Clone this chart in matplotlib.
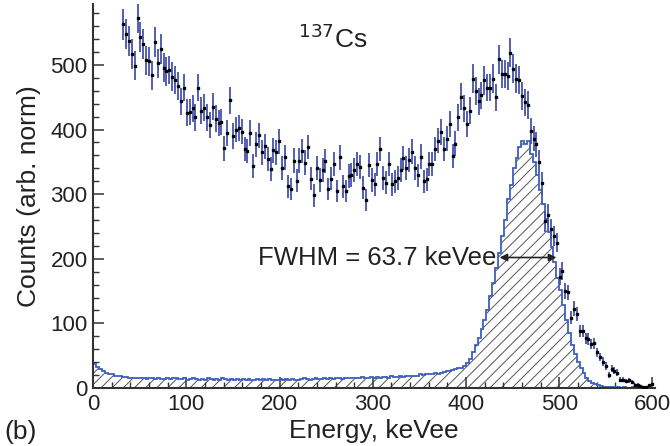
import matplotlib

matplotlib.use("Agg")
import matplotlib.pyplot as plt
import numpy as np

plt.rcParams["font.family"] = ["Liberation Sans", "DejaVu Sans"]
plt.rcParams["hatch.linewidth"] = 0.7

# measured spectrum (points with errors), bins of 3.1 keVee starting at 32.2
energy_start = 32.2
energy_step = 3.1
counts = [
    563, 548, 537, 517, 499, 573, 543, 532, 507, 506,
    484, 535, 503, 525, 496, 490, 492, 482, 477, 467,
    444, 465, 426, 427, 433, 419, 465, 429, 434, 419,
    407, 435, 417, 410, 412, 371, 395, 445, 390, 400,
    402, 397, 370, 367, 395, 343, 377, 391, 365, 374,
    354, 339, 368, 365, 382, 341, 357, 312, 308, 352,
    321, 352, 367, 349, 373, 324, 298, 341, 322, 337,
    351, 308, 324, 346, 305, 357, 312, 305, 328, 330,
    337, 346, 342, 310, 291, 345, 322, 315, 346, 370,
    325, 318, 346, 315, 320, 325, 337, 356, 341, 353,
    366, 341, 329, 358, 320, 323, 347, 346, 370, 383,
    396, 370, 386, 409, 359, 378, 419, 451, 433, 409,
    429, 479, 460, 444, 453, 476, 465, 465, 479, 450,
    509, 486, 486, 483, 519, 494, 479, 477, 452, 442,
    438, 398, 386, 377, 350, 317, 258, 268, 246, 235,
    225, 172, 181, 150, 148, 109, 123, 115, 88, 88,
    77, 76, 68, 69, 55, 48, 41, 34, 20, 30,
    27, 24, 13, 13, 11, 12, 10, 4, 5, 3,
    2, 2, 4, 6,
]

# simulated spectrum (hatched histogram), bins of 3.125 keVee from 0
hist_step = 3.125
hist_counts = [
    37, 33, 29, 26, 24, 22, 21, 19, 19, 18,
    17, 17, 16, 16, 15, 16, 15, 15, 14, 16,
    15, 14, 15, 14, 14, 15, 14, 16, 15, 14,
    14, 15, 13, 14, 15, 14, 13, 14, 13, 15,
    14, 13, 14, 13, 15, 14, 13, 14, 12, 14,
    13, 14, 13, 14, 13, 12, 14, 13, 14, 13,
    14, 13, 12, 13, 14, 13, 14, 13, 14, 13,
    13, 14, 15, 14, 13, 14, 15, 14, 14, 15,
    14, 15, 14, 16, 15, 14, 15, 16, 15, 15,
    16, 15, 17, 16, 15, 17, 16, 17, 16, 17,
    17, 16, 18, 17, 17, 18, 17, 19, 18, 18,
    19, 18, 22, 20, 21, 22, 21, 23, 22, 24,
    25, 26, 27, 28, 30, 31, 31, 34, 38, 45,
    55, 66, 78, 91, 105, 121, 142, 163, 186, 209,
    235, 260, 292, 314, 340, 356, 373, 382, 377, 383,
    362, 350, 330, 306, 285, 262, 242, 218, 195, 170,
    152, 128, 106, 85, 67, 53, 40, 31, 23, 16,
    11, 8, 6, 4, 3, 2, 2, 1, 1, 1,
    1, 0, 1, 0, 0, 1, 0, 0, 0, 0, 0, 0,
]

fwhm_lo, fwhm_hi, half_max = 436.0, 497.0, 202.0

energy = energy_start + energy_step * np.arange(len(counts))
counts = np.array(counts, dtype=float)
errors = np.sqrt(counts)
hist_counts = np.array(hist_counts, dtype=float)
hist_edges = hist_step * np.arange(len(hist_counts) + 1)

fig = plt.figure(figsize=(6.7, 4.46), dpi=100)
ax = fig.add_axes([0.139, 0.130, 0.839, 0.862])

ax.stairs(hist_counts, hist_edges, fill=True, facecolor="white", edgecolor="#555555",
          hatch="///", linewidth=0, zorder=1)
ax.stairs(hist_counts, hist_edges, color="#3d5fbf", linewidth=1.3, zorder=2)

ax.errorbar(energy, counts, yerr=errors, fmt="s", ms=1.5, mfc="black", mec="black",
            ecolor="#4654aa", elinewidth=1.3, capsize=0, zorder=3)

ax.annotate("", xy=(fwhm_lo, half_max), xytext=(fwhm_hi, half_max),
            arrowprops=dict(arrowstyle="<|-|>", color="#222222", lw=1.2,
                            mutation_scale=11, shrinkA=0, shrinkB=0), zorder=4)
ax.text(fwhm_lo - 3, half_max, "FWHM = 63.7 keVee", ha="right", va="center",
        fontsize=18.5, color="#222222")
ax.text(257, 540, r"$^{137}$Cs", ha="center", va="center", fontsize=19, color="#222222")

ax.set_xlim(0, 603)
ax.set_ylim(0, 595)
ax.set_xticks(np.arange(0, 601, 100))
ax.set_xticks(np.arange(0, 601, 20), minor=True)
ax.set_yticks(np.arange(0, 501, 100))
ax.set_yticks(np.arange(0, 595, 20), minor=True)
ax.tick_params(which="both", direction="in", colors="#333333", labelcolor="#222222")
ax.tick_params(which="major", length=8, width=1.1, labelsize=16, pad=4)
ax.tick_params(which="minor", length=4.5, width=1.0)
for side in ("top", "right"):
    ax.spines[side].set_visible(False)
for side in ("left", "bottom"):
    ax.spines[side].set_linewidth(1.5)
    ax.spines[side].set_color("#333333")

ax.set_xlabel("Energy, keVee", fontsize=19, labelpad=3, color="#222222")
ax.set_ylabel("Counts (arb. norm)", fontsize=19, labelpad=7, color="#222222")
fig.text(0.006, 0.015, "(b)", fontsize=19, color="#222222")

fig.savefig("out.png", dpi=100)
